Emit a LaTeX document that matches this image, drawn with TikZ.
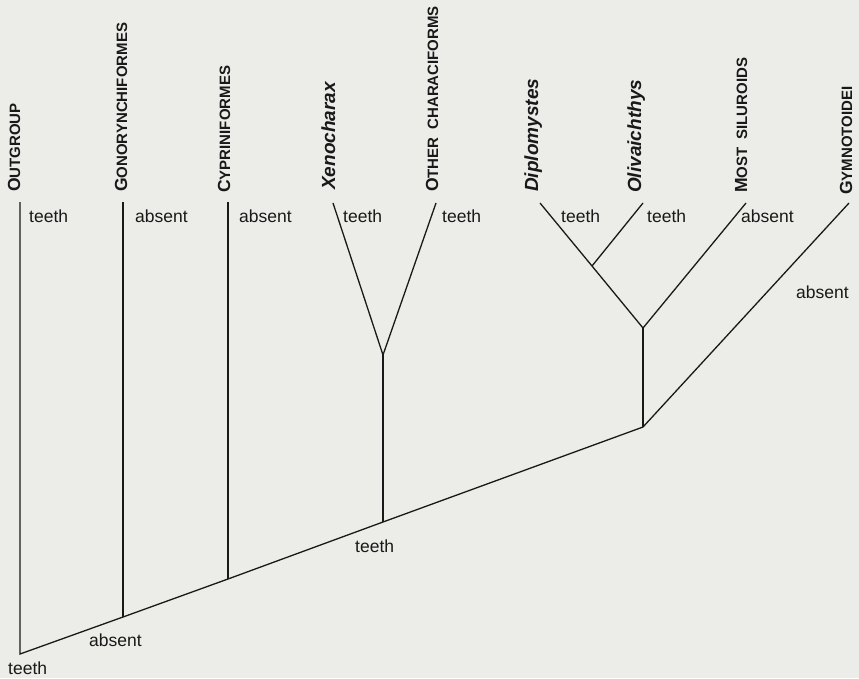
\documentclass[tikz,border=0pt]{standalone}
\usepackage{fontspec}
\setmainfont{Liberation Sans}
\definecolor{bg}{RGB}{236,236,233}
\definecolor{ink}{RGB}{25,25,25}
\newcommand{\smcap}[2]{{\fontsize{17.5}{18}\selectfont #1}{\fontsize{15}{16}\selectfont #2}}
\begin{document}
\begin{tikzpicture}[x=1pt,y=-1pt,
  branch/.style={draw=ink,line width=1.3pt,line join=miter},
  state/.style={inner sep=0pt,anchor=base west,text=ink,font=\fontsize{17.5}{18}\selectfont},
  taxon/.style={inner sep=0pt,anchor=base west,rotate=90,text=ink,font=\bfseries},
  taxit/.style={taxon,font=\bfseries\itshape\fontsize{19}{20}\selectfont}]
\fill[bg] (0,0) rectangle (859,678);
\useasboundingbox (0,0) rectangle (859,678);
% internal nodes
\coordinate (root) at (20,654);
\coordinate (n2) at (123,617);
\coordinate (n3) at (228,579);
\coordinate (n4) at (383,522);
\coordinate (n5) at (383,355);
\coordinate (n6) at (643,427);
\coordinate (n7) at (643,328);
\coordinate (n8) at (592,266);
% tips
\coordinate (t1) at (20,202);
\coordinate (t2) at (123,202);
\coordinate (t3) at (228,202);
\coordinate (t4) at (333,203);
\coordinate (t5) at (436,203);
\coordinate (t6) at (540,203);
\coordinate (t7) at (643,203);
\coordinate (t8) at (746,203);
\coordinate (t9) at (849,203);
% branches
\draw[branch] (t1) -- (root) -- (n2) -- (n3) -- (n4) -- (n6) -- (t9);
\draw[branch] (n2) -- (t2);
\draw[branch] (n3) -- (t3);
\draw[branch] (n4) -- (n5);
\draw[branch] (t4) -- (n5) -- (t5);
\draw[branch] (n6) -- (n7);
\draw[branch] (t6) -- (n8) -- (n7) -- (t8);
\draw[branch] (n8) -- (t7);
% taxon labels
\node[taxon] (l1) at (20,192) {\smcap{O}{UTGROUP}};
\node[taxon] (l2) at (127,192) {\smcap{G}{ONORYNCHIFORMES}};
\node[taxon] (l3) at (230,193) {\smcap{C}{YPRINIFORMES}};
\node[taxit] (l4) at (335,190) {Xenocharax};
\node[taxon] (l5) at (438,192) {\smcap{O}{THER\hspace{8pt}CHARACIFORMS}};
\node[taxit] (l6) at (538,192) {Diplomystes};
\node[taxit] (l7) at (641,193) {Olivaichthys};
\node[taxon] (l8) at (747,193) {\smcap{M}{OST\hspace{8pt}SILUROIDS}};
\node[taxon] (l9) at (852,195) {\smcap{G}{YMNOTOIDEI}};
% character states
\node[state] (s1) at (29,222) {teeth};
\node[state] (s2) at (135,222) {absent};
\node[state] (s3) at (239,222) {absent};
\node[state] (s4) at (343,222) {teeth};
\node[state] (s5) at (442,222) {teeth};
\node[state] (s6) at (561,222) {teeth};
\node[state] (s7) at (647,222) {teeth};
\node[state] (s8) at (741,222) {absent};
\node[state] (s9) at (796,298) {absent};
\node[state] (s10) at (355,552) {teeth};
\node[state] (s11) at (89,646) {absent};
\node[state] (s12) at (8,674) {teeth};
\end{tikzpicture}
\end{document}
